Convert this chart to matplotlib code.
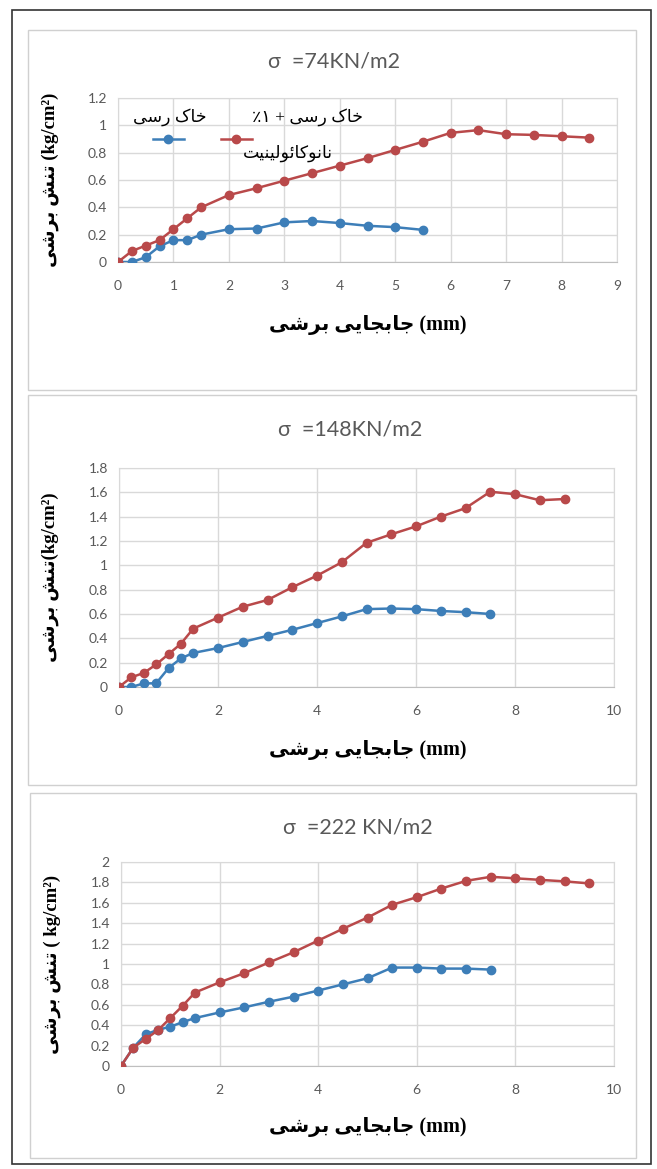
import numpy as np
import matplotlib.pyplot as plt
from matplotlib.patches import Rectangle
from matplotlib.ticker import FuncFormatter, MultipleLocator

plt.rcParams['font.family'] = ['Lato', 'DejaVu Sans']

# sigma = 74 kN/m2
x1_clay = [0, 0.25, 0.5, 0.75, 1, 1.25, 1.5, 2, 2.5, 3, 3.5, 4, 4.5, 5, 5.5]
y1_clay = [0, 0, 0.035, 0.115, 0.16, 0.16, 0.2, 0.24, 0.245, 0.29, 0.3, 0.285, 0.265, 0.255, 0.235]
x1_nano = [0, 0.25, 0.5, 0.75, 1, 1.25, 1.5, 2, 2.5, 3, 3.5, 4, 4.5, 5, 5.5, 6, 6.5, 7, 7.5, 8, 8.5]
y1_nano = [0, 0.08, 0.12, 0.16, 0.24, 0.32, 0.4, 0.49, 0.54, 0.595, 0.65, 0.705, 0.76, 0.82, 0.88,
           0.945, 0.965, 0.935, 0.93, 0.92, 0.91]

# sigma = 148 kN/m2
x2_clay = [0, 0.25, 0.5, 0.75, 1, 1.25, 1.5, 2, 2.5, 3, 3.5, 4, 4.5, 5, 5.5, 6, 6.5, 7, 7.5]
y2_clay = [0, 0, 0.03, 0.03, 0.155, 0.235, 0.28, 0.32, 0.37, 0.42, 0.47, 0.525, 0.58, 0.64, 0.645,
           0.64, 0.625, 0.615, 0.6]
x2_nano = [0, 0.25, 0.5, 0.75, 1, 1.25, 1.5, 2, 2.5, 3, 3.5, 4, 4.5, 5, 5.5, 6, 6.5, 7, 7.5, 8, 8.5, 9]
y2_nano = [0, 0.08, 0.115, 0.185, 0.27, 0.355, 0.48, 0.57, 0.66, 0.715, 0.82, 0.915, 1.025, 1.185,
           1.255, 1.32, 1.4, 1.47, 1.605, 1.585, 1.535, 1.545]

# sigma = 222 kN/m2
x3_clay = [0, 0.25, 0.5, 0.75, 1, 1.25, 1.5, 2, 2.5, 3, 3.5, 4, 4.5, 5, 5.5, 6, 6.5, 7, 7.5]
y3_clay = [0, 0.18, 0.31, 0.355, 0.385, 0.43, 0.47, 0.525, 0.575, 0.63, 0.68, 0.74, 0.8, 0.86,
           0.965, 0.965, 0.955, 0.955, 0.945]
x3_nano = [0, 0.25, 0.5, 0.75, 1, 1.25, 1.5, 2, 2.5, 3, 3.5, 4, 4.5, 5, 5.5, 6, 6.5, 7, 7.5, 8,
           8.5, 9, 9.5]
y3_nano = [0, 0.18, 0.265, 0.35, 0.47, 0.59, 0.72, 0.82, 0.91, 1.015, 1.115, 1.23, 1.345, 1.455,
           1.58, 1.655, 1.74, 1.815, 1.855, 1.84, 1.825, 1.81, 1.79]

titles = ['σ  =74KN/m2', 'σ  =148KN/m2', 'σ  =222 KN/m2']
ylims = [1.2, 1.8, 2.0]
xlims = [9, 10, 10]
xsteps = [1, 2, 2]

# persian text has to be shaped by hand (no bidi in matplotlib)
FORMS = {
    'ا': ('\uFE8D', '\uFE8E', None, None),
    'ب': ('\uFE8F', '\uFE90', '\uFE91', '\uFE92'),
    'ت': ('\uFE95', '\uFE96', '\uFE97', '\uFE98'),
    'ج': ('\uFE9D', '\uFE9E', '\uFE9F', '\uFEA0'),
    'خ': ('\uFEA5', '\uFEA6', '\uFEA7', '\uFEA8'),
    'ر': ('\uFEAD', '\uFEAE', None, None),
    'س': ('\uFEB1', '\uFEB2', '\uFEB3', '\uFEB4'),
    'ش': ('\uFEB5', '\uFEB6', '\uFEB7', '\uFEB8'),
    'ل': ('\uFEDD', '\uFEDE', '\uFEDF', '\uFEE0'),
    'ن': ('\uFEE5', '\uFEE6', '\uFEE7', '\uFEE8'),
    'و': ('\uFEED', '\uFEEE', None, None),
    'ئ': ('\uFE89', '\uFE8A', '\uFE8B', '\uFE8C'),
    'ک': ('\uFB8E', '\uFB8F', '\uFB90', '\uFB91'),
    'ی': ('\uFBFC', '\uFBFD', '\uFBFE', '\uFBFF'),
}


def fa(s):
    out = []
    for i, c in enumerate(s):
        if c not in FORMS:
            out.append(c)
            continue
        prev = s[i - 1] if i > 0 else ''
        nxt = s[i + 1] if i + 1 < len(s) else ''
        join_prev = prev in FORMS and FORMS[prev][2] is not None
        join_next = nxt in FORMS and FORMS[c][2] is not None
        iso, fin, ini, med = FORMS[c]
        if join_prev and join_next:
            out.append(med)
        elif join_prev:
            out.append(fin)
        elif join_next:
            out.append(ini)
        else:
            out.append(iso)
    return ''.join(out[::-1])


blue = '#3d7eb8'
red = '#b9494a'
grid_c = '#d9d9d9'
text_c = '#595959'
arfont = ['Liberation Serif', 'DejaVu Sans']

fig = plt.figure(figsize=(6.57, 11.69), dpi=100)
W, H = 657.0, 1169.0


def fbox(l, t, r, b):
    return [l / W, 1 - b / H, (r - l) / W, (b - t) / H]


# outer frame and panel frames
fig.add_artist(Rectangle((12 / W, 1 - 1164 / H), 639 / W, 1154 / H, transform=fig.transFigure,
                         fill=False, edgecolor='#333333', linewidth=1.2))
panels = [(28, 30, 636, 390), (28, 395, 636, 785), (30, 793, 636, 1158)]
for l, t, r, b in panels:
    fig.add_artist(Rectangle((l / W, 1 - b / H), (r - l) / W, (b - t) / H, transform=fig.transFigure,
                             fill=False, edgecolor='#d0d0d0', linewidth=1.0))

axes_pos = [fbox(118, 98, 617, 262), fbox(119, 468, 614, 687), fbox(121, 862, 614, 1066)]
data = [(x1_clay, y1_clay, x1_nano, y1_nano),
        (x2_clay, y2_clay, x2_nano, y2_nano),
        (x3_clay, y3_clay, x3_nano, y3_nano)]
title_y = [62, 430, 827]
title_x = [334, 350, 358]
xlab_y = [325, 750, 1127]
ylab_x = [50, 50, 52]
ylab_txt = [' (kg/cm²)', '(kg/cm²)', ' ( kg/cm²)']

for k in range(3):
    ax = fig.add_axes(axes_pos[k])
    xc, yc, xn, yn = data[k]
    lc, = ax.plot(xc, yc, color=blue, marker='o', markersize=6, linewidth=1.8, zorder=3)
    ln, = ax.plot(xn, yn, color=red, marker='o', markersize=6, linewidth=1.8, zorder=4)
    ax.set_xlim(0, xlims[k])
    ax.set_ylim(0, ylims[k])
    ax.xaxis.set_major_locator(MultipleLocator(xsteps[k]))
    ax.yaxis.set_major_locator(MultipleLocator(0.2))
    ax.xaxis.set_major_formatter(FuncFormatter(lambda v, p: '%g' % v))
    ax.yaxis.set_major_formatter(FuncFormatter(lambda v, p: '%g' % round(v, 1)))
    ax.tick_params(length=0, labelsize=10, labelcolor=text_c)
    ax.tick_params(axis='x', pad=13)
    ax.tick_params(axis='y', pad=8)
    ax.grid(True, color=grid_c, linewidth=1.0)
    ax.set_axisbelow(True)
    for sp in ax.spines.values():
        sp.set_color(grid_c)
    ax.spines['bottom'].set_color('#bfbfbf')

    fig.text(title_x[k] / W, 1 - title_y[k] / H, titles[k], ha='center', va='center',
             fontsize=15.5, color=text_c)
    fig.text(368 / W, 1 - xlab_y[k] / H, fa('جابجایی برشی') + ' (mm)', ha='center', va='center',
             fontsize=14.5, fontweight='bold', family=arfont)
    cy = (axes_pos[k][1] + axes_pos[k][3] / 2)
    fig.text(ylab_x[k] / W, cy, fa('تنش برشی') + ylab_txt[k], ha='center', va='center',
             rotation=90, fontsize=13.5, fontweight='bold', family=arfont)

    if k == 0:
        ax.legend([lc, ln], ['', ''], ncol=2, frameon=False, loc='center left',
                  bbox_to_anchor=(0.045, 0.745), handlelength=2.2, handletextpad=0,
                  columnspacing=2.7, fontsize=10)
        ax.text(0.104, 0.884, fa('خاک رسی'), transform=ax.transAxes, ha='center', va='center',
                fontsize=12.5, family=arfont)
        ax.text(0.38, 0.884, fa('خاک رسی + ۱٪'), transform=ax.transAxes, ha='center', va='center',
                fontsize=12.5, family=arfont)
        ax.text(0.34, 0.665, fa('نانوکائولینیت'), transform=ax.transAxes, ha='center', va='center',
                fontsize=12.5, family=arfont)

fig.savefig('out.png', dpi=100, facecolor='white')
